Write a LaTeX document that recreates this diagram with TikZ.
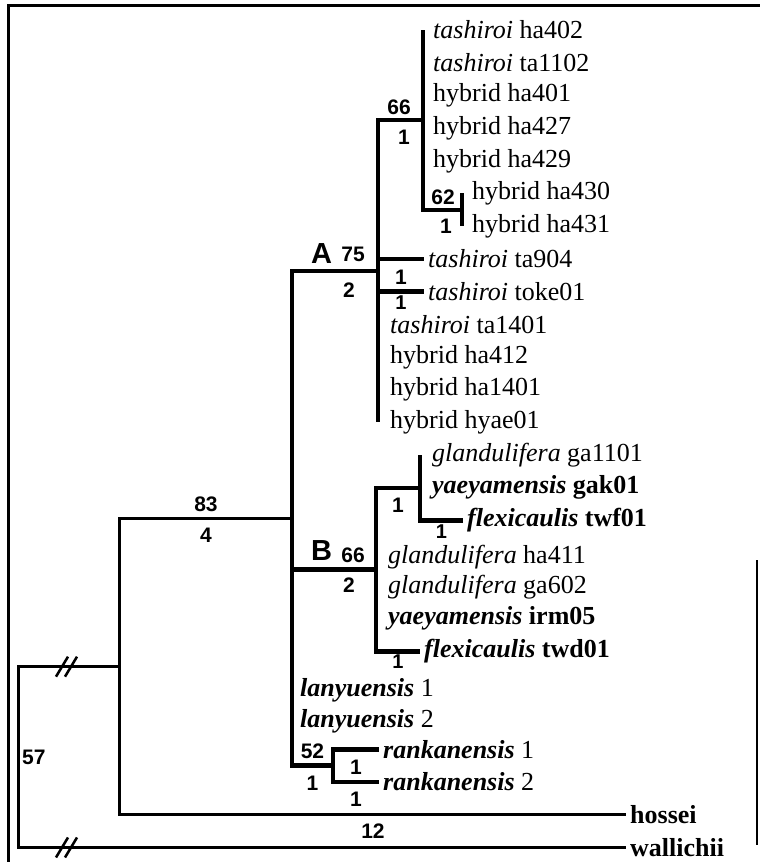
\documentclass[tikz,border=0pt]{standalone}
\usepackage{fontspec}
\setmainfont{Liberation Serif}
\newfontfamily\numfont{Liberation Sans}
\usetikzlibrary{positioning}

\begin{document}
\begin{tikzpicture}[x=1pt,y=-32.7pt]
	\tikzset{taxon/.style={anchor=west,inner xsep=4pt,inner ysep=1pt,font=\fontsize{26}{30}\selectfont}}
	\tikzset{branch/.style={line width=4.5pt}}
	\tikzset{stem/.style={line width=3pt}}
	\tikzset{supp/.style={inner sep=1pt,font=\numfont\bfseries\fontsize{21}{24}\selectfont}}
	\tikzset{boot/.style={supp,above=4pt}}
	\tikzset{decay/.style={supp,below=7pt}}
	\tikzset{tight/.style={supp,below=0.5pt,font=\numfont\bfseries\fontsize{20}{22}\selectfont}}
	\tikzset{clade/.style={inner sep=1pt,font=\numfont\bfseries\fontsize{29}{32}\selectfont}}
	\tikzset{hash/.style={line width=2.5pt}}
	\useasboundingbox (0,0.0826) rectangle (760,26.444);
	\draw[stem] (9,26.444) |- (760,0.2355);
	\draw[line width=2pt] (757,17.21) -- (757,25.92);
	% inner nodes of the tree
	\coordinate (n62) at (462,6.5);
	\coordinate (n66) at (423,3.75);
	\coordinate (nA) at (378,8.375);
	\coordinate (nBs) at (420,15);
	\coordinate (nB) at (376,17.5);
	\coordinate (nRk) at (333,23.5);
	\coordinate (nAB) at (292,15.94);
	\coordinate (nH) at (120,20.47);
	\coordinate (nR) at (19,23.23);
	% taxa
	\node[taxon] (ha402) at (429,1) {\textit{tashiroi} ha402};
	\node[taxon] (ta1102) at (429,2) {\textit{tashiroi} ta1102};
	\node[taxon] (ha401) at (429,3) {hybrid ha401};
	\node[taxon] (ha427) at (429,4) {hybrid ha427};
	\node[taxon] (ha429) at (429,5) {hybrid ha429};
	\node[taxon] (ha430) at (468,6) {hybrid ha430};
	\node[taxon] (ha431) at (468,7) {hybrid ha431};
	\node[taxon] (ta904) at (424,8) {\textit{tashiroi} ta904};
	\node[taxon] (toke01) at (424,9) {\textit{tashiroi} toke01};
	\node[taxon] (ta1401) at (386,10) {\textit{tashiroi} ta1401};
	\node[taxon] (ha412) at (386,11) {hybrid ha412};
	\node[taxon] (ha1401) at (386,12) {hybrid ha1401};
	\node[taxon] (hyae01) at (386,13) {hybrid hyae01};
	\node[taxon] (ga1101) at (428,14) {\textit{glandulifera} ga1101};
	\node[taxon] (gak01) at (428,15) {\textbf{\textit{yaeyamensis} gak01}};
	\node[taxon] (twf01) at (463,16) {\textbf{\textit{flexicaulis} twf01}};
	\node[taxon] (ha411) at (384,17.12) {\textit{glandulifera} ha411};
	\node[taxon] (ga602) at (384,18.05) {\textit{glandulifera} ga602};
	\node[taxon] (irm05) at (384,19) {\textbf{\textit{yaeyamensis} irm05}};
	\node[taxon] (twd01) at (420,20) {\textbf{\textit{flexicaulis} twd01}};
	\node[taxon] (lany1) at (296,21.2) {\textbf{\textit{lanyuensis}} 1};
	\node[taxon] (lany2) at (296,22.15) {\textbf{\textit{lanyuensis}} 2};
	\node[taxon] (rank1) at (379,23) {\textbf{\textit{rankanensis}} 1};
	\node[taxon] (rank2) at (379,24) {\textbf{\textit{rankanensis}} 2};
	\node[taxon] (hossei) at (626,25) {\textbf{hossei}};
	\node[taxon] (wallichii) at (626,26) {\textbf{wallichii}};
	% branches
	\draw[branch] (n66 |- ha402) |- (n62);
	\draw[branch] (n62 |- ha430) -- (n62 |- ha431);
	\draw[branch] (n66) -| (nA) -- (nA |- hyae01);
	\draw[branch] (nA |- ta904) -- (ta904.west);
	\draw[branch] (nA |- toke01) -- node[boot] (b9) {1} node[tight] (d9) {1} (toke01.west);
	\draw[branch] (nBs |- ga1101) |- node[pos=0.75,tight] (d16) {1} (twf01.west);
	\draw[branch] (nBs) -| node[pos=0.25,decay] (dBs) {1} (nB) |- node[pos=0.75,tight] (d20) {1} (twd01.west);
	\draw[branch] (rank1.west) -| node[pos=0.25,decay] (d23) {1} (nRk) |- node[pos=0.75,decay] (d24) {1} (rank2.west);
	\draw[branch] (nA) -| (nAB) |- node[pos=0.75,boot] (b52) {52} node[pos=0.75,decay] (d52) {1} (nRk);
	\draw[branch] (nAB |- nB) -- (nB);
	\draw[stem] (nAB) -| node[pos=0.25,boot] (b83) {83} node[pos=0.25,decay] (d83) {4} (nH) |- node[pos=0.75,decay] (d12) {12} (hossei.west);
	\draw[stem] (nH) -| (nR) |- (wallichii.west);
	\foreach \y in {20.47,26} \foreach \dx in {-10,-1}
		\draw[hash] (66,\y) ++(\dx pt,-10pt) -- ++(12pt,20pt);
	% support values
	\node[supp,above left=4pt and 11pt] (b66) at (n66) {66};
	\node[supp,below left=9pt and 12pt] (d66) at (n66) {1};
	\node[supp,above left=4pt and 6pt] (b62) at (n62) {62};
	\node[supp,below left=8pt and 9pt] (d62) at (n62) {1};
	\node[supp,above left=8pt and 12pt] (b75) at (nA) {75};
	\node[clade,left=7pt of b75,yshift=1pt] (labA) {A};
	\node[supp,below left=10pt and 22pt] (d75) at (nA) {2};
	\node[supp,above left=6pt and 10pt] (bB) at (nB) {66};
	\node[clade,left=7pt of bB,yshift=4pt] (labB) {B};
	\node[supp,below left=7pt and 20pt] (dB) at (nB) {2};
	\node[supp,right=2pt] (b57) at (nR) {57};
\end{tikzpicture}
\end{document}
